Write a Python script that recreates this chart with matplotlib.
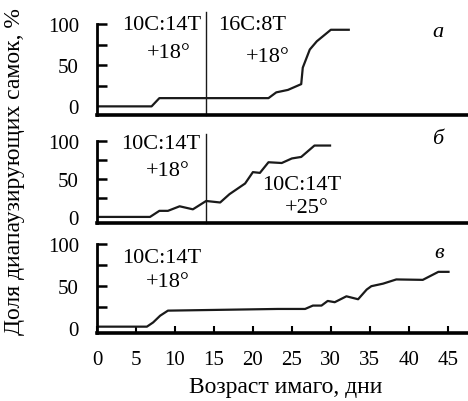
import matplotlib.pyplot as plt

plt.rcParams['font.family'] = ['Liberation Serif', 'DejaVu Serif']

# share of diapausing females (%) vs imago age (days)
days_a = [0, 7, 8, 22, 23, 24.5, 26.2, 26.4, 27.3, 28.2, 30, 32.3]
vals_a = [0, 0, 10, 10, 17, 20, 27, 47, 69, 79, 93, 93]

days_b = [0, 6.8, 8, 9.1, 10.6, 12.3, 14, 15.8, 17, 19, 20, 20.9, 22, 23.7, 25, 26.2, 27.9, 29.9]
vals_b = [0, 0, 8, 8, 14, 10, 21, 19, 30, 44, 59, 58, 72, 71, 77, 79, 94, 94]

days_c = [0, 6.4, 7.2, 8.1, 9.1, 23.2, 26.7, 27.7, 28.8, 29.6, 30.5, 32, 33.5, 34.6, 35.2, 36.7, 38.4, 41.8, 43.8, 45.1]
vals_c = [2, 2, 7, 15, 21, 23, 23, 27, 27, 32.5, 31, 38, 34.5, 46, 50, 53, 58, 57.5, 67, 67]

switch_day = 14
xticks = list(range(0, 50, 5))

fig = plt.figure(figsize=(4.68, 4.02), dpi=100)

left, width = 0.2073, 0.7927
ax_a = fig.add_axes([left, 0.7114, width, 0.2264])
ax_b = fig.add_axes([left, 0.4428, width, 0.2040])
ax_c = fig.add_axes([left, 0.1692, width, 0.2213])
ymins = [-10.5, -8, -5.5]

for ax, ymin in zip([ax_a, ax_b, ax_c], ymins):
    ax.set_xlim(0, 47.6)
    ax.set_ylim(ymin, 100)
    ax.spines['top'].set_visible(False)
    ax.spines['right'].set_visible(False)
    ax.spines['left'].set_linewidth(2)
    ax.spines['bottom'].set_linewidth(2.6)
    ax.set_yticks([0, 50, 100])
    ax.set_yticks([25, 75], minor=True)
    ax.tick_params(axis='y', which='both', direction='in', length=7, width=1.8,
                   labelsize=15)
    ax.yaxis.set_tick_params(which='major', pad=13)
    ax.yaxis.get_major_ticks()[0].tick1line.set_visible(False)
    ax.set_xticks(xticks)
    ax.tick_params(axis='x', direction='in', length=5, width=1.5, labelsize=15, pad=12)

for ax in [ax_a, ax_b]:
    ax.tick_params(axis='x', length=0, labelbottom=False)

lw = 1.6
col = '#1a1a1a'
ax_a.plot(days_a, vals_a, color=col, lw=lw)
ax_b.plot(days_b, vals_b, color=col, lw=lw)
ax_c.plot(days_c, vals_c, color=col, lw=lw)

# photoperiod / temperature switch
ax_a.axvline(switch_day, ymax=1.13, color=col, lw=1, clip_on=False)
ax_b.axvline(switch_day, ymax=1.08, color=col, lw=1, clip_on=False)

fs = 16
ax_a.text(8.3, 99, '10С:14Т', ha='center', va='center', fontsize=fs)
ax_a.text(9.2, 65, '+18°', ha='center', va='center', fontsize=fs)
ax_a.text(19.9, 99, '16С:8Т', ha='center', va='center', fontsize=fs)
ax_a.text(21.9, 60, '+18°', ha='center', va='center', fontsize=fs)
ax_a.text(43.7, 91, 'а', ha='center', va='center', fontsize=fs, style='italic')

ax_b.text(8.2, 97, '10С:14Т', ha='center', va='center', fontsize=fs)
ax_b.text(9.1, 61, '+18°', ha='center', va='center', fontsize=fs)
ax_b.text(26.3, 43, '10С:14Т', ha='center', va='center', fontsize=fs)
ax_b.text(26.9, 13, '+25°', ha='center', va='center', fontsize=fs)
ax_b.text(43.7, 103, 'б', ha='center', va='center', fontsize=fs, style='italic')

ax_c.text(8.3, 84, '10С:14Т', ha='center', va='center', fontsize=fs)
ax_c.text(9.1, 56, '+18°', ha='center', va='center', fontsize=fs)
ax_c.text(43.9, 90, 'в', ha='center', va='center', fontsize=fs, style='italic')

fig.text(0.032, 0.572, 'Доля диапаузирующих самок, %', rotation=90,
         ha='center', va='center', fontsize=17)
fig.text(0.61, 0.037, 'Возраст имаго, дни', ha='center', va='center', fontsize=17)

fig.savefig('out.png', dpi=100)
